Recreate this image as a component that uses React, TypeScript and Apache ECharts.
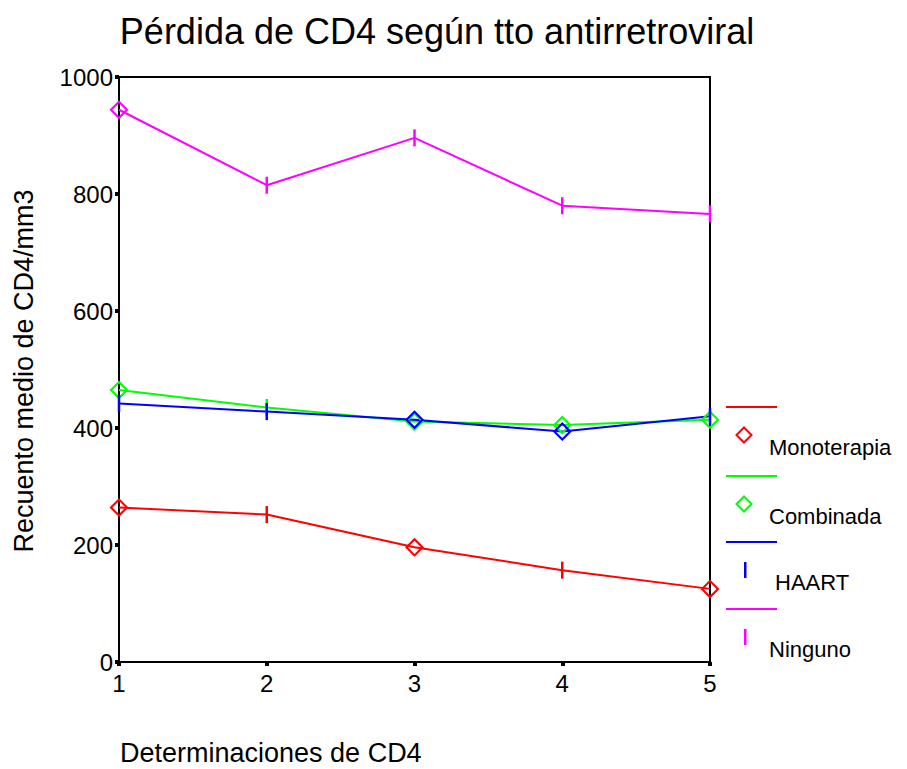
import React, { useEffect, useRef } from "react";
import * as echarts from "echarts";

const categories = ["1", "2", "3", "4", "5"];
const seriesNames = ["Monoterapia", "Combinada", "HAART", "Ninguno"];
const monoterapia = [264, 252, 196, 157, 125];
const combinada = [465, 435, 411, 405, 414];
const haart = [442, 428, 414, 394, 420];
const ninguno = [944, 815, 896, 780, 766];
const yTicks = [0, 200, 400, 600, 800, 1000];

// marker kind per point: d = hollow diamond, t = vertical tick
const markersMono = ["d", "t", "d", "t", "d"];
const markersComb = ["d", "t", "d", "d", "d"];
const markersHaart = ["t", "t", "d", "d", "t"];
const markersNing = ["d", "t", "t", "t", "t"];

const colors = ["#ff0000", "#00ff00", "#0000ff", "#ff00ff"];
const FONT = "'Liberation Sans', Arial, Helvetica, sans-serif";

const DIAMOND =
  "path://M0,-9 L9,0 L0,9 L-9,0 Z M0,-6.2 L-6.2,0 L0,6.2 L6.2,0 Z";

function buildData(values: number[], markers: string[]) {
  return values.map((v, i) =>
    markers[i] === "d"
      ? { value: v, symbol: DIAMOND, symbolSize: 19 }
      : { value: v, symbol: "rect", symbolSize: [2.5, 17] }
  );
}

export default function App() {
  const ref = useRef<HTMLDivElement>(null);
  useEffect(() => {
    if (!ref.current) return;
    const chart = echarts.init(ref.current, null, { renderer: "svg" });
    const allValues = [monoterapia, combinada, haart, ninguno];
    const allMarkers = [markersMono, markersComb, markersHaart, markersNing];

    const legendTops = [407, 476, 542, 609];
    const legendKinds = ["d", "d", "t", "t"];
    const legendTextX = [769, 769, 775, 769];
    const legendGraphics: any[] = [];
    seriesNames.forEach((name, i) => {
      const y0 = legendTops[i];
      legendGraphics.push({
        type: "line",
        shape: { x1: 726, y1: y0, x2: 777, y2: y0 },
        style: { stroke: colors[i], lineWidth: 2 },
      });
      const cy = y0 + 28;
      if (legendKinds[i] === "d") {
        legendGraphics.push({
          type: "polygon",
          shape: {
            points: [
              [744, cy - 7.5],
              [751.5, cy],
              [744, cy + 7.5],
              [736.5, cy],
            ],
          },
          style: { fill: "none", stroke: colors[i], lineWidth: 2 },
        });
      } else {
        legendGraphics.push({
          type: "rect",
          shape: { x: 744, y: cy - 8, width: 2.5, height: 16 },
          style: { fill: colors[i] },
        });
      }
      legendGraphics.push({
        type: "text",
        x: legendTextX[i],
        y: y0 + 40,
        style: {
          text: name,
          font: `22px ${FONT}`,
          fill: "#000",
          textAlign: "left",
          textVerticalAlign: "middle",
        },
      });
    });

    chart.setOption({
      animation: false,
      backgroundColor: "#fff",
      grid: {
        left: 119,
        right: 197,
        top: 77,
        bottom: 107,
        show: true,
        borderColor: "#000",
        borderWidth: 2,
        backgroundColor: "transparent",
      },
      xAxis: {
        type: "category",
        data: categories,
        boundaryGap: false,
        axisLine: { lineStyle: { color: "#000", width: 2 } },
        axisTick: {
          show: true,
          alignWithLabel: true,
          length: 4,
          lineStyle: { color: "#000", width: 4 },
        },
        axisLabel: { color: "#000", fontSize: 24, fontFamily: FONT, margin: 9 },
        splitLine: { show: false },
      },
      yAxis: {
        type: "value",
        min: yTicks[0],
        max: yTicks[yTicks.length - 1],
        interval: 200,
        axisLine: { show: true, lineStyle: { color: "#000", width: 2 } },
        axisTick: { show: true, length: 4, lineStyle: { color: "#000", width: 4 } },
        axisLabel: {
          color: "#000",
          fontSize: 24,
          fontFamily: FONT,
          margin: 6,
          formatter: (v: number) => String(v),
        },
        splitLine: { show: false },
      },
      series: seriesNames.map((name, i) => ({
        name,
        type: "line",
        data: buildData(allValues[i], allMarkers[i]),
        showSymbol: true,
        showAllSymbol: true,
        lineStyle: { color: colors[i], width: 2 },
        itemStyle: { color: colors[i], borderWidth: 0 },
        emphasis: { disabled: true },
      })),
      graphic: [
        {
          type: "text",
          x: 437,
          y: 31,
          style: {
            text: "Pérdida de CD4 según tto antirretroviral",
            font: `36px ${FONT}`,
            fill: "#000",
            textAlign: "center",
            textVerticalAlign: "middle",
          },
        },
        {
          type: "text",
          x: 24,
          y: 371,
          rotation: Math.PI / 2,
          style: {
            text: "Recuento medio de CD4/mm3",
            font: `27px ${FONT}`,
            fill: "#000",
            textAlign: "center",
            textVerticalAlign: "middle",
          },
        },
        {
          type: "text",
          x: 120,
          y: 753,
          style: {
            text: "Determinaciones de CD4",
            font: `27px ${FONT}`,
            fill: "#000",
            textAlign: "left",
            textVerticalAlign: "middle",
          },
        },
        ...legendGraphics,
      ],
    });
    return () => chart.dispose();
  }, []);
  return (
    <div
      ref={ref}
      style={{ position: "fixed", left: 0, top: 0, width: 907, height: 769 }}
    />
  );
}
